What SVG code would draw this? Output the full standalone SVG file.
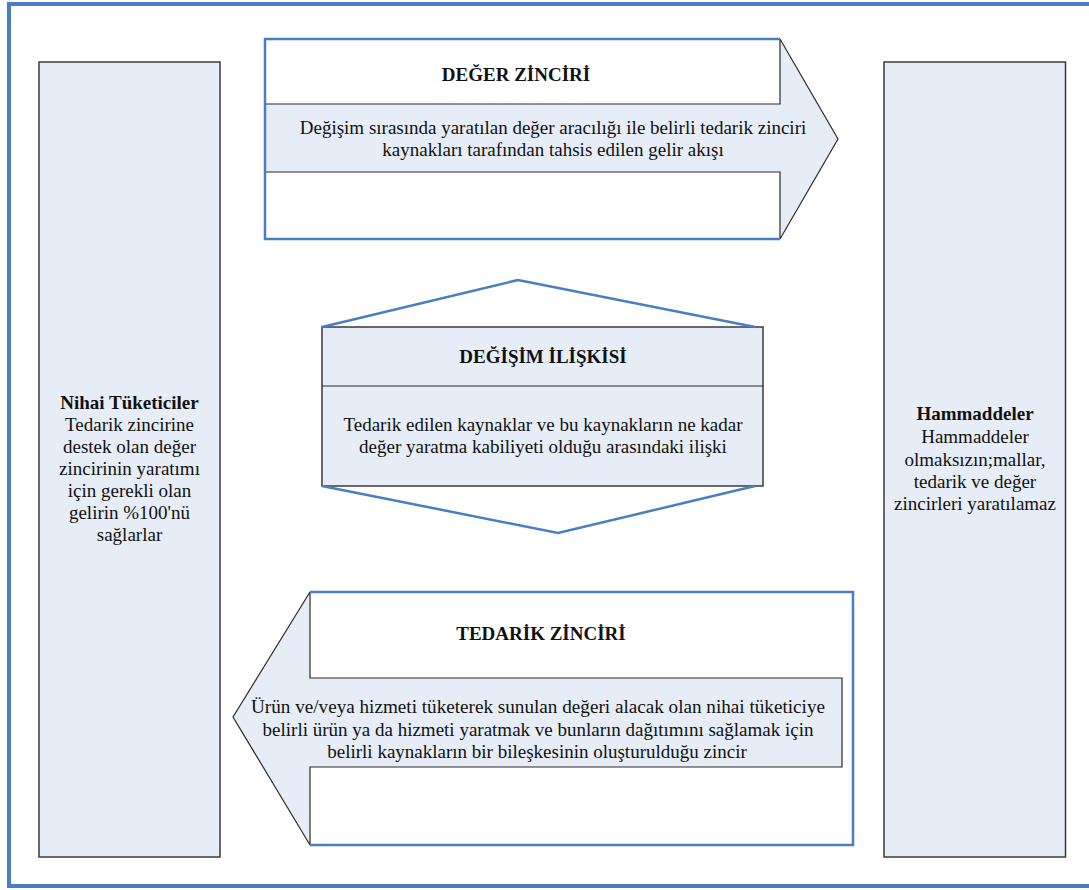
<svg xmlns="http://www.w3.org/2000/svg" width="1089" height="890" viewBox="0 0 1089 890">
  <style>
    .fill { fill: #e6edf7; stroke: none; }
    .white { fill: #ffffff; stroke: none; }
    .edge { fill: none; stroke: #2b2b2b; stroke-width: 1.2; }
    .blue { fill: none; stroke: #4a7dc4; stroke-width: 2.5; }
    .box { fill: #e6edf7; stroke: #3a3a3a; stroke-width: 1.5; }
    text { font-size: 19px; fill: #111; text-anchor: middle; }
    .title { font-weight: bold; }
  </style>

  <!-- outer frame -->
  <rect id="frame" x="9" y="4" width="1092" height="882" fill="#ffffff" stroke="#4a7dc4" stroke-width="4"/>

  <g font-family="Liberation Serif, Tinos, DejaVu Serif, serif">
  <!-- left column: end consumers -->
  <g id="nihai-tuketiciler">
    <rect class="box" x="39" y="62" width="181" height="795"/>
    <text class="title" x="129.5" y="409">Nihai Tüketiciler</text>
    <text x="129.5" y="431">Tedarik zincirine</text>
    <text x="129.5" y="453">destek olan değer</text>
    <text x="129.5" y="475">zincirinin yaratımı</text>
    <text x="129.5" y="497">için gerekli olan</text>
    <text x="129.5" y="519">gelirin %100'nü</text>
    <text x="129.5" y="541">sağlarlar</text>
  </g>

  <!-- right column: raw materials -->
  <g id="hammaddeler">
    <rect class="box" x="884" y="62" width="181.5" height="795"/>
    <text class="title" x="975" y="420">Hammaddeler</text>
    <text x="975" y="443">Hammaddeler</text>
    <text x="975" y="466">olmaksızın;mallar,</text>
    <text x="975" y="488">tedarik ve değer</text>
    <text x="975" y="510">zincirleri yaratılamaz</text>
  </g>

  <!-- right-pointing arrow: value chain -->
  <g id="deger-zinciri">
    <polygon class="fill" points="265,39 780,39 838,139 780,239 265,239"/>
    <rect class="white" x="265" y="39" width="515" height="65"/>
    <rect class="white" x="265" y="172" width="515" height="67"/>
    <path class="edge" d="M780,39 L838,139 L780,239 M780,39 V104 H265 M265,172 H780 V239"/>
    <path class="blue" d="M780,39 H265 V239 H780"/>
    <text class="title" x="516" y="81">DEĞER ZİNCİRİ</text>
    <text x="553" y="134">Değişim sırasında yaratılan değer aracılığı ile belirli tedarik zinciri</text>
    <text x="553" y="156">kaynakları tarafından tahsis edilen gelir akışı</text>
  </g>

  <!-- hexagon: exchange relationship -->
  <g id="degisim-iliskisi">
    <rect class="box" x="322" y="327" width="441" height="159" stroke="#2b2b2b" stroke-width="1.2"/>
    <line class="edge" x1="322" y1="386" x2="763" y2="386"/>
    <path class="blue" d="M322,327 L518,280 L755,327 M322,486 L558,533 L755,486"/>
    <text class="title" x="543" y="363">DEĞİŞİM İLİŞKİSİ</text>
    <text x="543" y="431">Tedarik edilen kaynaklar ve bu kaynakların ne kadar</text>
    <text x="543" y="453">değer yaratma kabiliyeti olduğu arasındaki ilişki</text>
  </g>

  <!-- left-pointing arrow: supply chain -->
  <g id="tedarik-zinciri">
    <rect class="white" x="310" y="592" width="543" height="253"/>
    <polygon class="fill" points="310,592 233,717 310,845"/>
    <rect class="fill" x="310" y="678" width="532" height="89"/>
    <path class="edge" d="M310,592 L233,717 L310,845 M310,592 V678 H842 V767 H310 V845"/>
    <path class="blue" d="M310,592 H853 V845 H310"/>
    <text class="title" x="541" y="640">TEDARİK ZİNCİRİ</text>
    <text x="251" y="713" style="text-anchor:start" textLength="574" lengthAdjust="spacingAndGlyphs">Ürün ve/veya hizmeti tüketerek sunulan değeri alacak olan nihai tüketiciye</text>
    <text x="538" y="736">belirli ürün ya da hizmeti yaratmak ve bunların dağıtımını sağlamak için</text>
    <text x="537" y="758">belirli kaynakların bir bileşkesinin oluşturulduğu zincir</text>
  </g>
  </g>
</svg>
